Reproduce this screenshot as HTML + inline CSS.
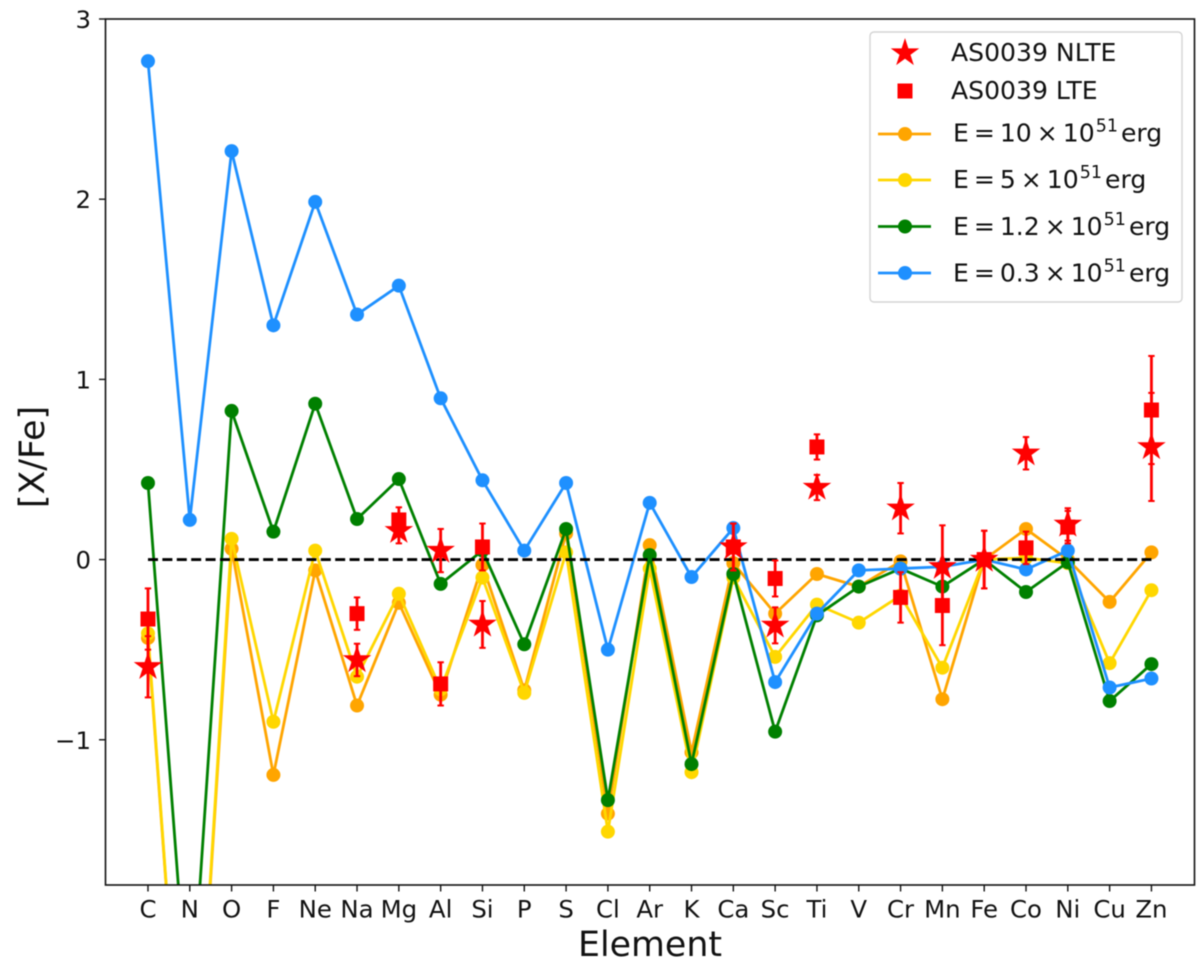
<!DOCTYPE html>
<html lang="en">
<head>
<meta charset="utf-8">
<title>[X/Fe] abundance pattern of AS0039</title>
<style>
html,body{margin:0;padding:0;background:#fff;width:1200px;height:968px;overflow:hidden}
svg{display:block;filter:blur(0.45px)}
text{font-family:"DejaVu Sans","Liberation Sans",sans-serif;fill:#111}
</style>
</head>
<body>
<svg id="chart" xmlns="http://www.w3.org/2000/svg" width="1200" height="968" viewBox="0 0 1200 968">
  <defs>
    <clipPath id="plot-clip"><rect x="105.5" y="19" width="1089" height="866"/></clipPath>
  </defs>
  <rect x="105.5" y="19" width="1089" height="866" fill="#fff"/>
  <g id="series-layer" clip-path="url(#plot-clip)"></g>
  <g id="obs-layer" clip-path="url(#plot-clip)"></g>
  <rect x="105.5" y="19" width="1089" height="866" fill="none" stroke="#111" stroke-width="1.6"/>
  <g id="tick-layer"></g>
  <text x="650" y="956" font-size="34.8" text-anchor="middle">Element</text>
  <text transform="translate(44 457) rotate(-90)" font-size="34.8" text-anchor="middle">[X/Fe]</text>

  <g>
    <rect x="870" y="32" width="312" height="270" rx="4" fill="#fff" fill-opacity="0.85" stroke="#d4d4d4" stroke-width="1.4"/>
    <g>
      <polygon id="legend-star" fill="#f00" stroke="#f00" stroke-width="1"/>
      <text x="951" y="61" font-size="25.1">AS0039 NLTE</text>
    </g>
    <g>
      <rect x="897.500" y="83.500" width="15" height="15" fill="#f00"/>
      <text x="951" y="99" font-size="25.1">AS0039 LTE</text>
    </g>
    <g>
      <line x1="878" x2="931" y1="134" y2="134" stroke="#ffa500" stroke-width="2.8"/>
      <circle cx="905" cy="134" r="7" fill="#ffa500"/>
      <text x="953" y="141.500" font-size="25.1" word-spacing="-3">E = 10 × 10<tspan font-size="17.5" dx="1" dy="-10">51</tspan><tspan dx="3" dy="10">erg</tspan></text>
    </g>
    <g>
      <line x1="878" x2="931" y1="180" y2="180" stroke="#ffd700" stroke-width="2.8"/>
      <circle cx="905" cy="180" r="7" fill="#ffd700"/>
      <text x="953" y="188" font-size="25.1" word-spacing="-3">E = 5 × 10<tspan font-size="17.5" dx="1" dy="-10">51</tspan><tspan dx="3" dy="10">erg</tspan></text>
    </g>
    <g>
      <line x1="878" x2="931" y1="226.500" y2="226.500" stroke="#008000" stroke-width="2.8"/>
      <circle cx="905" cy="226.500" r="7" fill="#008000"/>
      <text x="953" y="235" font-size="25.1" word-spacing="-3">E = 1.2 × 10<tspan font-size="17.5" dx="1" dy="-10">51</tspan><tspan dx="3" dy="10">erg</tspan></text>
    </g>
    <g>
      <line x1="878" x2="931" y1="273" y2="273" stroke="#1e90ff" stroke-width="2.8"/>
      <circle cx="905" cy="273" r="7" fill="#1e90ff"/>
      <text x="953" y="281.500" font-size="25.1" word-spacing="-3">E = 0.3 × 10<tspan font-size="17.5" dx="1" dy="-10">51</tspan><tspan dx="3" dy="10">erg</tspan></text>
    </g>
  </g>
</svg>

<script>
const elements = ["C","N","O","F","Ne","Na","Mg","Al","Si","P","S","Cl","Ar","K","Ca","Sc","Ti","V","Cr","Mn","Fe","Co","Ni","Cu","Zn"];
const yTickValues = [-1, 0, 1, 2, 3];
const yTickLabels = ["\u22121", "0", "1", "2", "3"];

const e10Values = [-0.435,-3.6,0.06,-1.195,-0.06,-0.81,-0.24,-0.75,-0.03,-0.725,0.145,-1.41,0.08,-1.07,-0.02,-0.30,-0.08,-0.15,-0.01,-0.775,0,0.17,0,-0.235,0.04];
const e5Values = [-0.41,-3.6,0.115,-0.90,0.05,-0.65,-0.19,-0.72,-0.10,-0.74,0.04,-1.51,-0.05,-1.18,-0.10,-0.54,-0.25,-0.35,-0.20,-0.60,0,0.01,-0.02,-0.575,-0.17];
const e1p2Values = [0.425,-2.65,0.825,0.155,0.865,0.225,0.447,-0.135,0.05,-0.47,0.17,-1.335,0.025,-1.135,-0.08,-0.955,-0.31,-0.15,-0.05,-0.15,0,-0.18,-0.015,-0.785,-0.58];
const e0p3Values = [2.766,0.22,2.267,1.30,1.985,1.36,1.52,0.895,0.44,0.05,0.425,-0.50,0.315,-0.097,0.175,-0.68,-0.30,-0.06,-0.05,-0.04,0,-0.055,0.05,-0.71,-0.66];

const nlteValues = [-0.595,null,null,null,null,-0.557,0.16,0.05,-0.36,null,null,null,null,null,0.07,-0.365,0.40,null,0.285,-0.04,0,0.59,0.195,null,0.625];
const nlteErrors = [0.17,null,null,null,null,0.09,0.07,0.12,0.13,null,null,null,null,null,0.13,0.10,0.07,null,0.14,0.23,0.16,0.09,0.09,null,0.30];
const lteValues = [-0.33,null,null,null,null,-0.30,0.22,-0.69,0.07,null,null,null,null,null,0.07,-0.105,0.625,null,-0.21,-0.255,0,0.065,0.18,null,0.83];
const lteErrors = [0.17,null,null,null,null,0.09,0.07,0.12,0.13,null,null,null,null,null,0.13,0.10,0.07,null,0.14,0.22,0.16,0.09,0.09,null,0.30];
const referenceLevel = 0;

const plot = {left:105.5, right:1194.5, top:19, bottom:885, xMin:-1.016, xMax:25.03, yMin:-1.806, yMax:3};
const NS = "http://www.w3.org/2000/svg";
const seriesLayer = document.getElementById("series-layer");
const obsLayer = document.getElementById("obs-layer");
const tickLayer = document.getElementById("tick-layer");

function xScale(i){ return plot.left + (i - plot.xMin) / (plot.xMax - plot.xMin) * (plot.right - plot.left); }
function yScale(v){ return plot.bottom - (v - plot.yMin) / (plot.yMax - plot.yMin) * (plot.bottom - plot.top); }
function make(tag, attrs, parent){
  const el = document.createElementNS(NS, tag);
  for (const k in attrs) el.setAttribute(k, attrs[k]);
  parent.appendChild(el);
  return el;
}
function starPoints(cx, cy, R){
  const r = R * 0.382, pts = [];
  for (let k = 0; k < 10; k++){
    const a = -Math.PI / 2 + k * Math.PI / 5, q = k % 2 ? r : R;
    pts.push((cx + q * Math.cos(a)).toFixed(2) + "," + (cy + q * Math.sin(a)).toFixed(2));
  }
  return pts.join(" ");
}
/* Clip a data polyline to the axes' vertical range so nothing is laid out past the plot. */
function clippedPath(values){
  let d = "", penDown = false;
  for (let i = 0; i < values.length - 1; i++){
    let x0 = xScale(i), y0 = yScale(values[i]), x1 = xScale(i + 1), y1 = yScale(values[i + 1]);
    if ((y0 > plot.bottom && y1 > plot.bottom) || (y0 < plot.top && y1 < plot.top)){ penDown = false; continue; }
    const cut = (limit) => x0 + (limit - y0) / (y1 - y0) * (x1 - x0);
    let sx = x0, sy = y0, ex = x1, ey = y1, startClipped = false, endClipped = false;
    if (y0 > plot.bottom){ sx = cut(plot.bottom); sy = plot.bottom; startClipped = true; }
    else if (y0 < plot.top){ sx = cut(plot.top); sy = plot.top; startClipped = true; }
    if (y1 > plot.bottom){ ex = cut(plot.bottom); ey = plot.bottom; endClipped = true; }
    else if (y1 < plot.top){ ex = cut(plot.top); ey = plot.top; endClipped = true; }
    if (!penDown || startClipped) d += "M" + sx.toFixed(2) + " " + sy.toFixed(2);
    d += "L" + ex.toFixed(2) + " " + ey.toFixed(2);
    penDown = !endClipped;
  }
  return d;
}

function drawSeries(values, color, name){
  const g = make("g", {}, seriesLayer);
  
  
  const line = make("path", {
    d: clippedPath(values),
    fill: "none", stroke: color, "stroke-width": 2.8, "stroke-linejoin": "round"
  }, g);
  
  
  values.forEach((v, i) => {
    if (v < plot.yMin || v > plot.yMax) return;
    const c = make("circle", {cx: xScale(i), cy: yScale(v), r: 7, fill: color}, g);
    
    
  });
}
drawSeries(e10Values, "#ffa500", "series-e10");
drawSeries(e5Values, "#ffd700", "series-e5");
drawSeries(e1p2Values, "#008000", "series-e1-2");
drawSeries(e0p3Values, "#1e90ff", "series-e0-3");

const refLine = make("line", {
  x1: xScale(0), x2: xScale(elements.length - 1), y1: yScale(referenceLevel), y2: yScale(referenceLevel),
  stroke: "#000", "stroke-width": 2.8, "stroke-dasharray": "10 4.4"
}, seriesLayer);



function drawErrorBar(i, v, err, name){
  const x = xScale(i), y0 = yScale(v + err), y1 = yScale(v - err);
  const g = make("g", {stroke: "#f00", "stroke-width": 2.8}, obsLayer);
  
  
  make("line", {x1: x, x2: x, y1: y0, y2: y1}, g);
  make("line", {x1: x - 3.2, x2: x + 3.2, y1: y0, y2: y0, "stroke-width": 2}, g);
  make("line", {x1: x - 3.2, x2: x + 3.2, y1: y1, y2: y1, "stroke-width": 2}, g);
}
nlteValues.forEach((v, i) => {
  if (v === null) return;
  drawErrorBar(i, v, nlteErrors[i], 'nlte-error-' + elements[i]);
  const s = make("polygon", {points: starPoints(xScale(i), yScale(v), 13.4), fill: "#f00", stroke: "#f00", "stroke-width": 1}, obsLayer);
  
  
});
lteValues.forEach((v, i) => {
  if (v === null) return;
  drawErrorBar(i, v, lteErrors[i], 'lte-error-' + elements[i]);
  const s = make("rect", {x: xScale(i) - 7.5, y: yScale(v) - 7.5, width: 15, height: 15, fill: "#f00"}, obsLayer);
  
  
});

elements.forEach((label, i) => {
  const t = make("line", {x1: xScale(i), x2: xScale(i), y1: plot.bottom, y2: plot.bottom + 6.5, stroke: "#111", "stroke-width": 1.4}, tickLayer);
  
  
  const txt = make("text", {x: xScale(i), y: 917.5, "font-size": 24.4, "text-anchor": "middle"}, tickLayer);
  txt.textContent = label;
  
  
});
yTickValues.forEach((v, i) => {
  const t = make("line", {x1: plot.left - 6.5, x2: plot.left, y1: yScale(v), y2: yScale(v), stroke: "#111", "stroke-width": 1.4}, tickLayer);
  
  
  const txt = make("text", {x: 91, y: yScale(v) + 9, "font-size": 24.4, "text-anchor": "end"}, tickLayer);
  txt.textContent = yTickLabels[i];
  
  
});
document.getElementById("legend-star").setAttribute("points", starPoints(905, 53, 13.4));
</script>
</body>
</html>
